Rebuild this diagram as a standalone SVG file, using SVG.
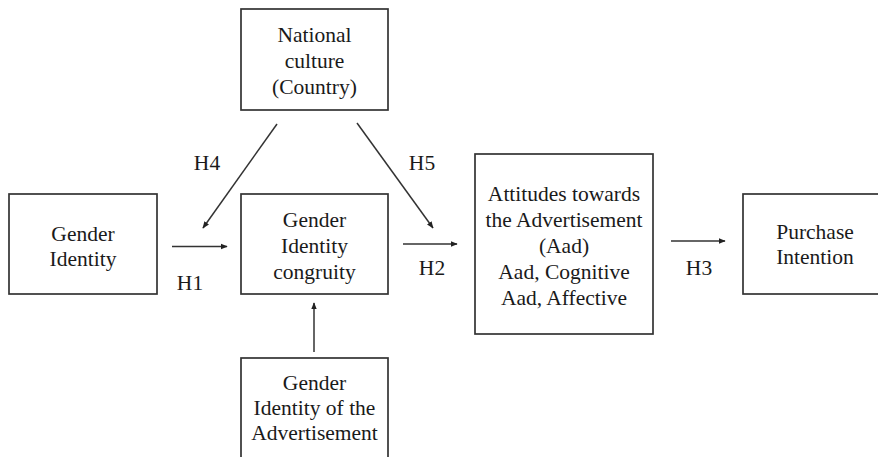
<svg xmlns="http://www.w3.org/2000/svg" width="878" height="457" viewBox="0 0 878 457">
<style>
.box{fill:#fff;stroke:#333;stroke-width:1.7}
.t{font-family:"Liberation Serif","Times New Roman",serif;font-size:21.5px;fill:#1a1a1a;text-anchor:middle}
.c{stroke:#333;stroke-width:1.5;fill:none;marker-end:url(#ah)}
</style>
<defs>
<marker id="ah" viewBox="0 0 10 10" refX="9" refY="5" markerWidth="7" markerHeight="7" markerUnits="userSpaceOnUse" orient="auto">
<path d="M0,1 L10,5 L0,9 z" fill="#222"/>
</marker>
</defs>
<rect width="878" height="457" fill="#fff"/>
<g id="n-national">
<rect class="box" x="241" y="9" width="147" height="101"/>
<text class="t" x="314.5" y="42">National</text>
<text class="t" x="314.5" y="68">culture</text>
<text class="t" x="314.5" y="94">(Country)</text>
</g>
<g id="n-gender-identity">
<rect class="box" x="9" y="194" width="148" height="100"/>
<text class="t" x="83" y="241">Gender</text>
<text class="t" x="83" y="266">Identity</text>
</g>
<g id="n-congruity">
<rect class="box" x="241" y="194" width="147" height="100"/>
<text class="t" x="314.5" y="227">Gender</text>
<text class="t" x="314.5" y="253">Identity</text>
<text class="t" x="314.5" y="279">congruity</text>
</g>
<g id="n-attitudes">
<rect class="box" x="475" y="154" width="178" height="180"/>
<text class="t" x="564" y="201">Attitudes towards</text>
<text class="t" x="564" y="227">the Advertisement</text>
<text class="t" x="564" y="253">(Aad)</text>
<text class="t" x="564" y="279">Aad, Cognitive</text>
<text class="t" x="564" y="305">Aad, Affective</text>
</g>
<g id="n-purchase">
<rect class="box" x="743" y="194" width="150" height="100"/>
<text class="t" x="815" y="239">Purchase</text>
<text class="t" x="815" y="264">Intention</text>
</g>
<g id="n-ad-gender">
<rect class="box" x="241" y="358" width="147" height="120"/>
<text class="t" x="314.5" y="390">Gender</text>
<text class="t" x="314.5" y="415">Identity of the</text>
<text class="t" x="314.5" y="440">Advertisement</text>
</g>
<g id="connectors">
<line class="c" x1="172" y1="246.5" x2="227" y2="246.5"/>
<line class="c" x1="403" y1="244" x2="457" y2="244"/>
<line class="c" x1="671" y1="241" x2="725" y2="241"/>
<line class="c" x1="314" y1="352" x2="314" y2="303"/>
<line class="c" x1="277" y1="124" x2="203" y2="228"/>
<line class="c" x1="357" y1="123" x2="433" y2="228"/>
</g>
<g id="labels">
<text class="t" x="207" y="170">H4</text>
<text class="t" x="422" y="170">H5</text>
<text class="t" x="190" y="290">H1</text>
<text class="t" x="432" y="275">H2</text>
<text class="t" x="699" y="275">H3</text>
</g>
</svg>
